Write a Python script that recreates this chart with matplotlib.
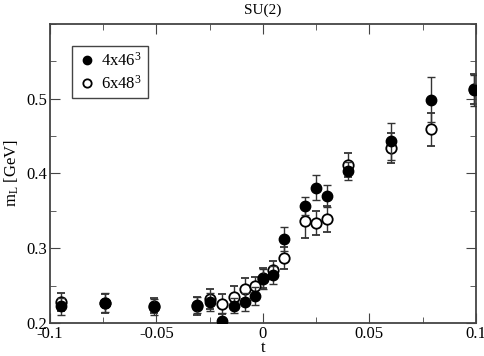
import matplotlib
matplotlib.use("Agg")
import matplotlib.pyplot as plt
from matplotlib.ticker import MultipleLocator
from matplotlib.lines import Line2D

plt.rcParams['font.family'] = ['Liberation Serif', 'DejaVu Serif']
plt.rcParams['mathtext.fontset'] = 'custom'
plt.rcParams['mathtext.rm'] = 'Liberation Serif'
plt.rcParams['mathtext.it'] = 'Liberation Serif:italic'

# temperature-like parameter t
t = [-0.095, -0.074, -0.051, -0.031, -0.025, -0.019, -0.0135, -0.0085, -0.0035,
     0.0, 0.005, 0.01, 0.02, 0.025, 0.03, 0.04, 0.06, 0.079, 0.099]

# 4x46^3 lattice (filled)
m46 = [0.222, 0.227, 0.221, 0.224, 0.228, 0.203, 0.223, 0.228, 0.236,
       0.259, 0.264, 0.312, 0.356, 0.381, 0.370, 0.4035, 0.443, 0.4985, 0.511]
e46 = [0.011, 0.013, 0.011, 0.011, 0.012, 0.010, 0.010, 0.012, 0.012,
       0.013, 0.012, 0.016, 0.012, 0.017, 0.015, 0.012, 0.025, 0.030, 0.021]

# 6x48^3 lattice (open)
m48 = [0.228, 0.226, 0.223, 0.223, 0.232, 0.225, 0.235, 0.2455, 0.249,
       0.260, 0.271, 0.287, 0.336, 0.334, 0.339, 0.4115, 0.434, 0.459, 0.513]
e48 = [0.012, 0.013, 0.010, 0.012, 0.014, 0.013, 0.015, 0.014, 0.013,
       0.013, 0.012, 0.015, 0.022, 0.016, 0.017, 0.016, 0.020, 0.022, 0.020]

xticks = [-0.1, -0.05, 0, 0.05, 0.1]
xticklabels = ['-0.1', '-0.05', '0', '0.05', '0.1']
yticks = [0.2, 0.3, 0.4, 0.5]
yticklabels = ['0.2', '0.3', '0.4', '0.5']

fig = plt.figure(figsize=(4.84, 3.56), dpi=100)
ax = fig.add_axes([0.103, 0.093, 0.880, 0.840])

ax.errorbar(t, m46, yerr=e46, fmt='o', color='black', ms=7.5, capsize=3,
            elinewidth=1, ecolor='#333333', zorder=3)
ax.errorbar(t, m48, yerr=e48, fmt='o', mfc='white', mec='black', mew=1.3,
            ms=7.5, capsize=3, elinewidth=1, ecolor='#333333', zorder=2)

ax.set_xticks(xticks)
ax.set_xticklabels(xticklabels, fontsize=12)
ax.set_yticks(yticks)
ax.set_yticklabels(yticklabels, fontsize=12)
ax.xaxis.set_minor_locator(MultipleLocator(0.025))
ax.yaxis.set_minor_locator(MultipleLocator(0.05))
ax.set_xlim(-0.1, 0.1)
ax.set_ylim(0.2, 0.6)

ax.tick_params(which='both', direction='in', top=True, right=True, color='#444444')
ax.tick_params(which='major', length=7, pad=2)
ax.tick_params(which='minor', length=4)
for s in ax.spines.values():
    s.set_color('#444444')
    s.set_linewidth(1.3)

ax.set_xlabel('t', fontsize=12, labelpad=-1)
ax.set_ylabel(r'm$_\mathregular{L}$ [GeV]', fontsize=12, labelpad=4)
ax.set_title('SU(2)', fontsize=11, pad=7)

handles = [Line2D([], [], ls='none', marker='o', color='black', ms=6),
           Line2D([], [], ls='none', marker='o', mfc='white', mec='black', mew=1.3, ms=6)]
leg = ax.legend(handles, [r'4x46$^3$', r'6x48$^3$'], loc='upper left',
                bbox_to_anchor=(0.052, 0.926), borderaxespad=0, fontsize=12,
                frameon=True, fancybox=False, edgecolor='#444444', framealpha=1,
                handletextpad=0.3, borderpad=0.35, labelspacing=0.3,
                handlelength=1.1, numpoints=1)
leg.get_frame().set_linewidth(1)

fig.savefig('out.png', dpi=100)
